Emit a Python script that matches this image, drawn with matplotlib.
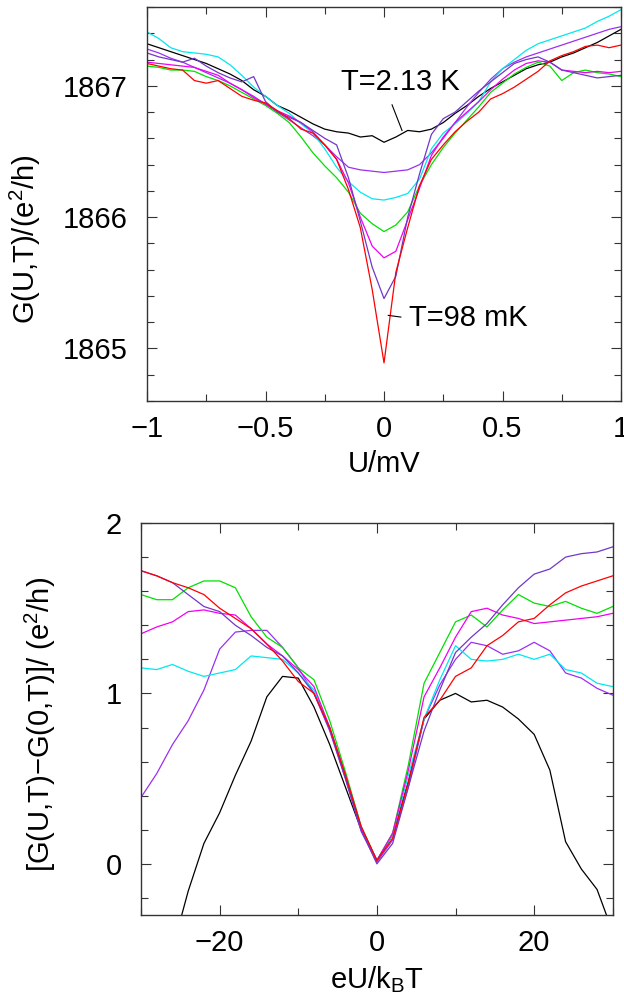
import matplotlib
matplotlib.use("Agg")
import matplotlib.pyplot as plt
import numpy as np

plt.rcParams['font.family'] = ['Liberation Sans', 'DejaVu Sans']
plt.rcParams['mathtext.default'] = 'regular'

# ---- top panel: G(U,T) vs U ----
U = np.round(np.arange(-1.0, 1.0001, 0.05), 2)

G_black = [1867.32, 1867.29, 1867.26, 1867.23, 1867.20, 1867.17, 1867.13, 1867.09, 1867.04, 1866.97,
           1866.92, 1866.85, 1866.81, 1866.76, 1866.71, 1866.67, 1866.65, 1866.64, 1866.61, 1866.62,
           1866.57, 1866.61, 1866.66, 1866.65, 1866.67, 1866.72, 1866.79, 1866.85, 1866.92, 1866.98,
           1867.03, 1867.08, 1867.13, 1867.16, 1867.18, 1867.22, 1867.25, 1867.29, 1867.33, 1867.38, 1867.43]
G_violet = [1867.28, 1867.25, 1867.21, 1867.18, 1867.14, 1867.10, 1867.06, 1867.02, 1866.97, 1866.92,
            1866.86, 1866.80, 1866.74, 1866.68, 1866.62, 1866.55, 1866.46, 1866.38, 1866.36, 1866.35,
            1866.34, 1866.35, 1866.36, 1866.40, 1866.49, 1866.60, 1866.72, 1866.84, 1866.95, 1867.05,
            1867.13, 1867.18, 1867.22, 1867.25, 1867.28, 1867.31, 1867.34, 1867.37, 1867.40, 1867.43, 1867.45]
G_cyan = [1867.41, 1867.36, 1867.29, 1867.26, 1867.25, 1867.24, 1867.22, 1867.16, 1867.08, 1866.99,
          1866.92, 1866.85, 1866.79, 1866.71, 1866.64, 1866.52, 1866.38, 1866.27, 1866.19, 1866.14,
          1866.13, 1866.15, 1866.18, 1866.29, 1866.52, 1866.64, 1866.71, 1866.79, 1866.88, 1867.03,
          1867.13, 1867.20, 1867.27, 1867.32, 1867.35, 1867.38, 1867.41, 1867.44, 1867.49, 1867.53, 1867.58]
G_green = [1867.15, 1867.14, 1867.12, 1867.12, 1867.11, 1867.07, 1867.04, 1867.00, 1866.95, 1866.90,
           1866.85, 1866.79, 1866.72, 1866.61, 1866.49, 1866.39, 1866.30, 1866.19, 1866.03, 1865.95,
           1865.89, 1865.94, 1866.04, 1866.24, 1866.40, 1866.53, 1866.64, 1866.74, 1866.84, 1866.95,
           1867.02, 1867.09, 1867.14, 1867.18, 1867.15, 1867.04, 1867.10, 1867.12, 1867.10, 1867.09, 1867.07]
G_magenta = [1867.18, 1867.17, 1867.16, 1867.15, 1867.14, 1867.11, 1867.08, 1867.02, 1866.97, 1866.91,
             1866.86, 1866.81, 1866.77, 1866.72, 1866.65, 1866.55, 1866.44, 1866.26, 1866.00, 1865.78,
             1865.69, 1865.74, 1865.98, 1866.22, 1866.47, 1866.61, 1866.72, 1866.80, 1866.88, 1866.97,
             1867.05, 1867.12, 1867.17, 1867.19, 1867.18, 1867.12, 1867.11, 1867.10, 1867.11, 1867.10, 1867.11]
G_dpurple = [1867.25, 1867.22, 1867.20, 1867.18, 1867.21, 1867.15, 1867.10, 1867.06, 1867.03, 1867.07,
             1866.88, 1866.80, 1866.76, 1866.72, 1866.66, 1866.60, 1866.55, 1866.30, 1865.97, 1865.62,
             1865.38, 1865.55, 1866.00, 1866.33, 1866.63, 1866.75, 1866.80, 1866.88, 1866.96, 1867.03,
             1867.10, 1867.17, 1867.20, 1867.22, 1867.18, 1867.12, 1867.10, 1867.08, 1867.06, 1867.07, 1867.08]
G_red = [1867.17, 1867.15, 1867.13, 1867.12, 1867.04, 1867.02, 1867.04, 1866.98, 1866.92, 1866.89,
         1866.87, 1866.81, 1866.75, 1866.67, 1866.64, 1866.55, 1866.44, 1866.21, 1865.92, 1865.45,
         1864.89, 1865.58, 1865.92, 1866.24, 1866.44, 1866.55, 1866.65, 1866.73, 1866.80, 1866.90,
         1866.94, 1866.99, 1867.05, 1867.11, 1867.19, 1867.23, 1867.26, 1867.30, 1867.31, 1867.29, 1867.31]

# ---- bottom panel: scaled curves vs eU/kBT ----
s = np.arange(-30, 31, 2)

D_black = [-0.95, -0.75, -0.5, -0.16, 0.12, 0.30, 0.52, 0.72, 0.98, 1.10, 1.09, 0.92, 0.70, 0.45, 0.20, 0.02,
           0.17, 0.48, 0.85, 0.96, 1.00, 0.95, 0.96, 0.92, 0.85, 0.76, 0.55, 0.13, -0.03, -0.15, -0.40]
D_violet = [0.39, 0.53, 0.70, 0.84, 1.02, 1.26, 1.36, 1.37, 1.37, 1.27, 1.15, 1.00, 0.78, 0.50, 0.19, 0.01,
            0.14, 0.45, 0.85, 1.05, 1.20, 1.30, 1.28, 1.23, 1.25, 1.30, 1.25, 1.12, 1.09, 1.03, 0.99]
D_cyan = [1.15, 1.14, 1.17, 1.13, 1.10, 1.12, 1.14, 1.22, 1.21, 1.20, 1.12, 1.02, 0.80, 0.52, 0.21, 0.02,
          0.17, 0.52, 0.85, 1.08, 1.28, 1.20, 1.19, 1.20, 1.23, 1.20, 1.23, 1.14, 1.12, 1.06, 1.04]
D_green = [1.58, 1.55, 1.55, 1.62, 1.66, 1.66, 1.62, 1.45, 1.33, 1.27, 1.15, 1.08, 0.84, 0.54, 0.22, 0.02,
           0.18, 0.58, 1.06, 1.24, 1.42, 1.46, 1.39, 1.49, 1.58, 1.53, 1.51, 1.54, 1.50, 1.47, 1.51]
D_magenta = [1.35, 1.39, 1.42, 1.48, 1.49, 1.47, 1.46, 1.38, 1.29, 1.22, 1.14, 1.04, 0.80, 0.52, 0.21, 0.02,
             0.18, 0.55, 0.98, 1.15, 1.33, 1.48, 1.50, 1.46, 1.44, 1.41, 1.42, 1.43, 1.44, 1.45, 1.47]
D_dpurple = [1.72, 1.69, 1.65, 1.58, 1.51, 1.48, 1.40, 1.34, 1.27, 1.22, 1.12, 1.00, 0.79, 0.50, 0.20, 0.00,
             0.12, 0.45, 0.78, 1.02, 1.24, 1.33, 1.41, 1.52, 1.62, 1.70, 1.73, 1.80, 1.82, 1.83, 1.86]
D_red = [1.72, 1.69, 1.65, 1.62, 1.58, 1.50, 1.44, 1.38, 1.29, 1.19, 1.07, 1.00, 0.80, 0.52, 0.22, 0.02,
         0.15, 0.48, 0.86, 0.96, 1.10, 1.15, 1.28, 1.34, 1.42, 1.44, 1.52, 1.59, 1.63, 1.66, 1.69]

colors = {'black': 'black', 'violet': '#9b30f0', 'cyan': '#00e8f0', 'green': '#00e000',
          'magenta': '#f000f0', 'dpurple': '#7038c8', 'red': '#ff0000'}

fs = 21

fig = plt.figure(figsize=(6.24, 10), dpi=100)
ax1 = fig.add_axes([0.2356, 0.599, 0.7596, 0.394])
ax2 = fig.add_axes([0.226, 0.085, 0.756, 0.392])

top = [(G_black, 'black'), (G_violet, 'violet'), (G_cyan, 'cyan'), (G_green, 'green'),
       (G_magenta, 'magenta'), (G_dpurple, 'dpurple'), (G_red, 'red')]
for g, c in top:
    ax1.plot(U, g, color=colors[c], lw=0.9)

bottom = [(D_black, 'black'), (D_violet, 'violet'), (D_cyan, 'cyan'), (D_green, 'green'),
          (D_magenta, 'magenta'), (D_dpurple, 'dpurple'), (D_red, 'red')]
for d, c in bottom:
    ax2.plot(s, d, color=colors[c], lw=0.9)

ax1.set_xlim(-1, 1)
ax1.set_ylim(1864.6, 1867.6)
ax1.set_xticks([-1, -0.5, 0, 0.5, 1])
ax1.set_xticklabels(['\u22121', '\u22120.5', '0', '0.5', '1'])
ax1.set_xticks(np.arange(-1, 1.01, 0.25), minor=True)
ax1.set_yticks([1865, 1866, 1867])
ax1.set_yticks(np.arange(1864.6, 1867.61, 0.2), minor=True)
ax1.set_xlabel('U/mV', fontsize=fs, labelpad=5)
ax1.set_ylabel('G(U,T)/(e$^2$/h)', fontsize=fs)
ax1.yaxis.set_label_coords(-0.219, 0.41)

ax1.text(0.07, 1867.03, 'T=2.13 K', fontsize=fs, ha='center', va='center')
ax1.plot([0.034, 0.076], [1866.855, 1866.66], color='black', lw=0.8)
ax1.text(0.105, 1865.23, 'T=98 mK', fontsize=fs, ha='left', va='center')
ax1.plot([0.018, 0.071], [1865.252, 1865.239], color='black', lw=0.8)

ax2.set_xlim(-30, 30)
ax2.set_ylim(-0.3, 2)
ax2.set_xticks([-20, 0, 20])
ax2.set_xticklabels(['\u221220', '0', '20'])
ax2.set_xticks(np.arange(-30, 31, 10), minor=True)
ax2.set_yticks([0, 1, 2])
ax2.set_yticks(np.arange(-0.2, 2.01, 0.2), minor=True)
ax2.set_xlabel('eU/k$_B$T', fontsize=fs, labelpad=5)
ax2.set_ylabel('[G(U,T)\u2212G(0,T)]/ (e$^2$/h)', fontsize=fs)
ax2.yaxis.set_label_coords(-0.176, 0.485)

for ax in (ax1, ax2):
    ax.tick_params(which='both', direction='in', top=True, right=True,
                   labelsize=fs, width=0.8, color='#333333')
    ax.tick_params(which='major', length=7, pad=10)
    ax.tick_params(which='minor', length=5)
    ax.tick_params(axis='y', which='major', pad=14)
    for sp in ax.spines.values():
        sp.set_linewidth(1.0)
        sp.set_color('#333333')

plt.savefig('out.png', dpi=100)
